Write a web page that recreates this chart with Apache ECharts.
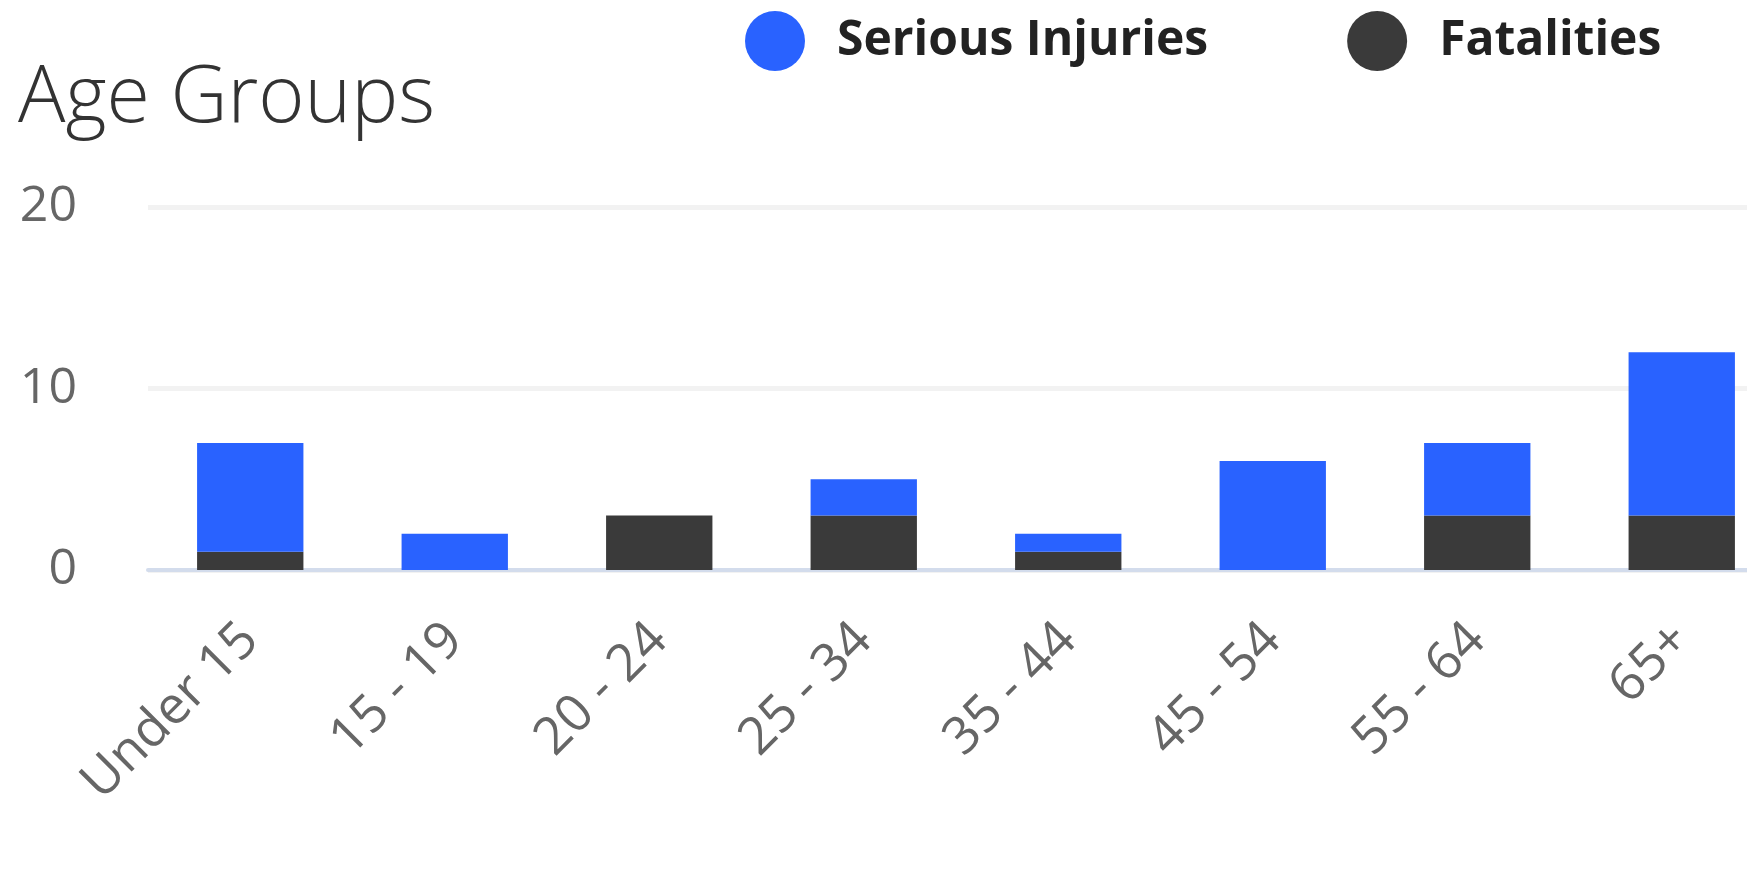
<!DOCTYPE html>
<html>
<head>
<meta charset="utf-8">
<script src="https://cdn.jsdelivr.net/npm/echarts@6/dist/echarts.min.js"></script>
<style>
html,body{margin:0;padding:0;background:#fff;}
#c{width:1747px;height:896px;}
</style>
</head>
<body>
<div id="c"></div>
<script>
const categories = ['Under 15', '15 - 19', '20 - 24', '25 - 34', '35 - 44', '45 - 54', '55 - 64', '65+'];
const seriousInjuries = [6, 2, 0, 2, 1, 6, 4, 9];
const fatalities = [1, 0, 3, 3, 1, 0, 3, 3];
const yTicks = { min: 0, max: 20, interval: 10 };

const FONT = "'Open Sans', 'Noto Sans', sans-serif";
const chart = echarts.init(document.getElementById('c'), null, { renderer: 'canvas' });
chart.setOption({
  backgroundColor: '#ffffff',
  animation: false,
  title: {
    text: 'Age Groups',
    left: 13,
    top: 55,
    textStyle: { fontFamily: FONT, fontSize: 79, fontWeight: 300, color: '#333333' }
  },
  legend: {
    left: 740,
    top: 6,
    icon: 'circle',
    itemWidth: 60,
    itemHeight: 60,
    itemGap: 139,
    data: ['Serious Injuries', 'Fatalities'],
    textStyle: { fontFamily: FONT, fontSize: 48, fontWeight: 'bold', color: '#222222', padding: [4, 0, 0, 27] }
  },
  grid: { left: 148, width: 1636, top: 207, bottom: 326, containLabel: false, outerBoundsMode: 'none' },
  xAxis: {
    type: 'category',
    data: categories,
    axisLine: { show: true, lineStyle: { color: '#d3dcec', width: 4 } },
    axisTick: { show: false },
    axisLabel: { rotate: 45, margin: 62, fontFamily: FONT, fontSize: 52, color: '#666666', interval: 0 }
  },
  yAxis: {
    type: 'value',
    min: yTicks.min,
    max: yTicks.max,
    interval: yTicks.interval,
    axisLine: { show: false },
    axisTick: { show: false },
    splitLine: { lineStyle: { color: '#f2f2f2', width: 5 } },
    axisLabel: { margin: 71, fontFamily: FONT, fontSize: 50, color: '#666666', padding: [6, 0, 0, 0] }
  },
  series: [
    { name: 'Fatalities', type: 'bar', stack: 'total', data: fatalities, barWidth: '52%', itemStyle: { color: '#3a3a3a' } },
    { name: 'Serious Injuries', type: 'bar', stack: 'total', data: seriousInjuries, barWidth: '52%', itemStyle: { color: '#2962ff' } }
  ]
});
</script>
</body>
</html>
